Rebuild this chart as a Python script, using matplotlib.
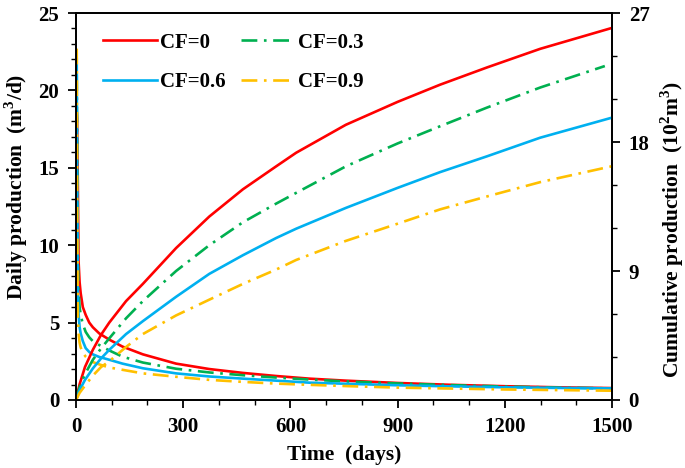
import numpy as np
import matplotlib
matplotlib.use('Agg')
import matplotlib.pyplot as plt
from matplotlib.ticker import MultipleLocator

plt.rcParams['font.family'] = ['Liberation Serif', 'DejaVu Serif']
plt.rcParams['font.weight'] = 'bold'
plt.rcParams['mathtext.fontset'] = 'custom'
plt.rcParams['mathtext.rm'] = 'Liberation Serif:bold'

# Daily production (m3/d), left axis
days_q = [2, 3, 5, 7, 10, 13, 19, 27, 37, 47, 65, 93, 130, 187, 280, 373, 467, 560, 653, 755,
          900, 1050, 1200, 1350, 1500]
q_cf0 = [18.6, 18.2, 14.0, 9.0, 7.6, 6.9, 6.0, 5.5, 5.0, 4.7, 4.3, 3.9, 3.45, 2.95, 2.35, 2.0,
         1.75, 1.55, 1.38, 1.25, 1.1, 0.98, 0.89, 0.82, 0.77]
q_cf03 = [21.0, 17.0, 10.0, 7.2, 6.0, 5.5, 4.9, 4.4, 4.05, 3.8, 3.55, 3.2, 2.8, 2.42, 2.02, 1.78,
          1.6, 1.45, 1.32, 1.2, 1.07, 0.96, 0.87, 0.8, 0.75]
q_cf06 = [22.0, 15.0, 7.0, 5.6, 4.7, 4.3, 3.8, 3.35, 3.1, 2.95, 2.78, 2.6, 2.35, 2.05, 1.72, 1.52,
          1.38, 1.25, 1.12, 1.05, 0.95, 0.88, 0.82, 0.78, 0.75]
q_cf09 = [22.7, 13.0, 5.5, 4.3, 3.7, 3.4, 3.05, 2.8, 2.6, 2.45, 2.3, 2.1, 1.95, 1.72, 1.5, 1.3,
          1.17, 1.06, 0.98, 0.9, 0.8, 0.74, 0.68, 0.64, 0.6]

# Cumulative production (10^2 m3), right axis
days_c = [0, 10, 25, 47, 70, 93, 140, 187, 280, 373, 467, 560, 616, 755, 900, 1019, 1150, 1299, 1500]
days_c03 = days_c[:-1] + [1480]
c_cf0 = [0.0, 1.1, 2.3, 3.5, 4.55, 5.4, 6.9, 8.1, 10.6, 12.8, 14.7, 16.3, 17.25, 19.2, 20.8, 22.0,
         23.2, 24.5, 25.96]
c_cf03 = [0.0, 0.9, 1.8, 2.8, 3.6, 4.3, 5.7, 6.9, 9.0, 10.8, 12.4, 13.7, 14.45, 16.3, 17.9, 19.1,
          20.4, 21.8, 23.3]
c_cf06 = [0.0, 0.7, 1.4, 2.2, 2.9, 3.5, 4.6, 5.5, 7.2, 8.8, 10.1, 11.3, 11.95, 13.4, 14.8, 15.9,
          17.0, 18.3, 19.7]
c_cf09 = [0.0, 0.5, 1.0, 1.7, 2.3, 2.7, 3.7, 4.6, 5.9, 7.0, 8.1, 9.1, 9.77, 11.1, 12.3, 13.3,
          14.2, 15.2, 16.31]

labels = ['CF=0', 'CF=0.3', 'CF=0.6', 'CF=0.9']
colors = ['#FF0000', '#00B050', '#00B0F0', '#FFC000']
dash_dot = (6, 2.5, 1, 2.5)

fig = plt.figure(figsize=(6.85, 4.68), dpi=100)
ax = fig.add_axes([0.111, 0.1453, 0.7824, 0.8269])
ax2 = ax.twinx()

lw = 1.9
q_all = [q_cf0, q_cf03, q_cf06, q_cf09]
c_all = [c_cf0, c_cf03, c_cf06, c_cf09]
handles = []
for i in range(4):
    if i % 2 == 0:
        h, = ax.plot(days_q, q_all[i], color=colors[i], lw=lw, label=labels[i])
        ax2.plot(days_c, c_all[i], color=colors[i], lw=lw)
    else:
        h, = ax.plot(days_q, q_all[i], color=colors[i], lw=lw, dashes=dash_dot, label=labels[i])
        dc = days_c03 if i == 1 else days_c
        ax2.plot(dc, c_all[i], color=colors[i], lw=lw, dashes=dash_dot)
    handles.append(h)

ax.set_xlim(0, 1500)
ax.set_ylim(0, 25)
ax2.set_ylim(0, 27)
ax.xaxis.set_major_locator(MultipleLocator(300))
ax.xaxis.set_minor_locator(MultipleLocator(100))
ax.yaxis.set_major_locator(MultipleLocator(5))
ax.yaxis.set_minor_locator(MultipleLocator(1))
ax2.yaxis.set_major_locator(MultipleLocator(9))
ax2.yaxis.set_minor_locator(MultipleLocator(3))

for a in (ax, ax2):
    a.tick_params(which='major', direction='out', length=6, width=1.3, labelsize=15, pad=6)
    a.tick_params(which='minor', direction='out', length=3.5, width=1.0)
    for s in a.spines.values():
        s.set_linewidth(1.3)
ax.tick_params(axis='x', which='major', pad=6.5)
for t in ax.get_xticklabels() + ax.get_yticklabels() + ax2.get_yticklabels():
    t.set_fontweight('bold')

ax.set_xlabel('Time  (days)', fontsize=15.5, fontweight='bold', labelpad=5.5)
ax.set_ylabel('Daily production  (m$^3$/d)', fontsize=15.5, fontweight='bold')
ax.yaxis.set_label_coords(-0.086, 0.55)
ax2.set_ylabel('Cumulative production  (10$^2$m$^3$)', fontsize=15.5, fontweight='bold',
               rotation=90)
ax2.yaxis.set_label_coords(1.086, 0.44)

# matplotlib fills legend columns first, so order handles to get rows CF=0/0.3, CF=0.6/0.9
ax.legend(handles=[handles[0], handles[2], handles[1], handles[3]], ncol=2, frameon=False,
          loc='upper left', bbox_to_anchor=(0.035, 0.971), borderaxespad=0,
          handlelength=2.6, columnspacing=0.72, labelspacing=0.95, handletextpad=0.15,
          prop={'family': 'Liberation Serif', 'weight': 'bold', 'size': 15})

fig.savefig('out.png', dpi=100)
